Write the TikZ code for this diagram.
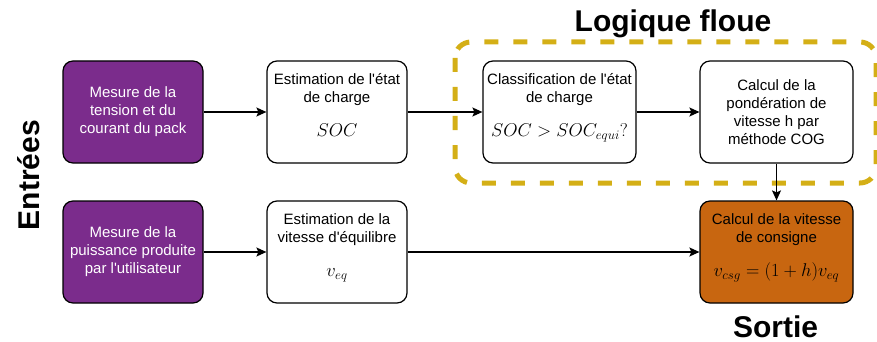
\RequirePackage{fix-cm}
\documentclass[tikz,border=0pt]{standalone}
\usepackage{fontspec}
\setmainfont{Liberation Sans}
\usetikzlibrary{arrows.meta, positioning}
\definecolor{mesureviolet}{RGB}{123, 44, 140}
\definecolor{sortieorange}{RGB}{200, 102, 16}
\definecolor{flouejaune}{RGB}{212, 175, 22}

\tikzset{
    bloc/.style={draw, line width=1.2pt, rounded corners=10pt, align=center,
        minimum width=140pt, minimum height=102pt, inner sep=0pt,
        font=\fontsize{15}{18}\selectfont},
    large/.style={minimum width=153pt},
    mesure/.style={bloc, fill=mesureviolet, text=white},
    formule/.style={text height=51pt, text depth=2pt},
    fleche/.style={line width=1.2pt, -{Stealth[length=10pt, width=9pt, inset=2pt]}},
    titre/.style={font=\fontsize{30}{34}\selectfont\bfseries},
}
\newcommand{\grandmath}[1]{{\fontsize{18.5}{22}\selectfont $#1$}}

\begin{document}
\begin{tikzpicture}[x=1pt, y=-1pt]
    \useasboundingbox (0,0) rectangle (877,342);

    % Zone logique floue
    \draw[flouejaune, line width=5pt, rounded corners=16pt,
          dash pattern=on 14pt off 15pt] (455,42) rectangle (876,183);
    \node[titre, anchor=base] (floue) at (673,32) {Logique floue};

    % Entrees
    \node[titre, rotate=90] (entrees) at (29,175) {Entrées};
    \node[mesure] (tension) at (133,112) {Mesure de la\\tension et du\\courant du pack};
    \node[mesure] (puissance) at (133,252) {Mesure de la\\puissance produite\\par l\textquotesingle utilisateur};

    % Estimations
    \node[bloc, formule] (soc) at (337,112)
        {Estimation de l\textquotesingle état\\de charge\\[16pt]\grandmath{SOC}};
    \node[bloc, formule] (veq) at (337,252)
        {Estimation de la\\vitesse d\textquotesingle équilibre\\[16pt]\grandmath{v_{eq}}};

    % Logique floue
    \node[bloc, large, formule] (classif) at (559.5,112)
        {Classification de l\textquotesingle état\\de charge\\[16pt]\grandmath{SOC > SOC_{equi}?}};
    \node[bloc, large] (ponder) at (776.5,112)
        {Calcul de la\\pondération de\\vitesse h par\\méthode COG};

    % Sortie
    \node[bloc, large, formule, fill=sortieorange] (consigne) at (776.5,252)
        {Calcul de la vitesse\\de consigne\\[16pt]\grandmath{v_{csg} = (1+h)v_{eq}}};
    \node[titre, anchor=base] (sortie) at (775.5,337) {Sortie};

    % Fleches
    \draw[fleche] (tension) -- (soc);
    \draw[fleche] (soc) -- (classif);
    \draw[fleche] (classif) -- (ponder);
    \draw[fleche] (ponder) -- (consigne);
    \draw[fleche] (puissance) -- (veq);
    \draw[fleche] (veq) -- (consigne);
\end{tikzpicture}
\end{document}
